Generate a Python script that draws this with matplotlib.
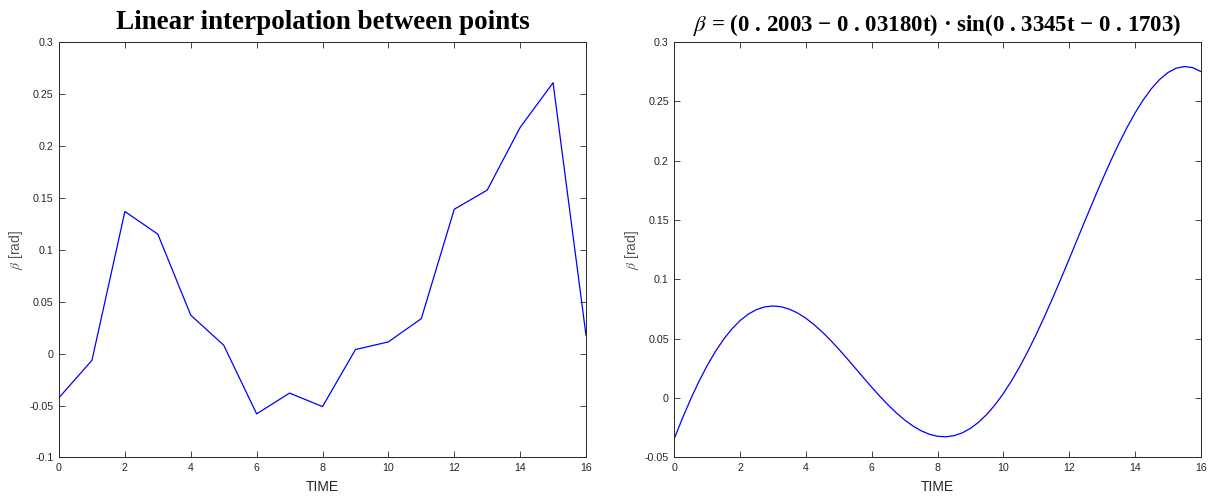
import matplotlib

matplotlib.use("Agg")
import matplotlib.pyplot as plt
import numpy as np
from matplotlib.ticker import FuncFormatter, MultipleLocator

plt.rcParams["font.family"] = ["Liberation Sans", "DejaVu Sans"]
plt.rcParams["mathtext.fontset"] = "stix"

# sampled beta values, one per time step
time_steps = np.arange(0, 17)
beta_points = [
    -0.0424, -0.0064, 0.1368, 0.1150, 0.0370, 0.0081, -0.0580, -0.0380, -0.0510,
    0.0039, 0.0113, 0.0337, 0.1390, 0.1574, 0.2177, 0.2608, 0.0177,
]

# fitted model: beta = (a - b t) * sin(w t - phi)
fit_a = 0.2003
fit_b = 0.03180
fit_w = 0.3345
fit_phi = 0.1703
fit_time = np.arange(0, 16.001, 0.25)

x_ticks = np.arange(0, 17, 2)

TEXT = "#262626"
LINE = "#0000ff"


def _style(ax, ylim):
    ax.set_xlim(0, 16)
    ax.set_ylim(*ylim)
    ax.set_xticks(x_ticks)
    ax.yaxis.set_major_locator(MultipleLocator(0.05))
    ax.yaxis.set_major_formatter(FuncFormatter(lambda v, _: f"{round(v, 4):g}"))
    ax.tick_params(direction="in", top=True, right=True, length=4.5, width=0.6,
                   labelsize=7.7, colors=TEXT, pad=4)
    for spine in ax.spines.values():
        spine.set_linewidth(0.7)
        spine.set_color(TEXT)
    ax.set_xlabel("TIME", fontsize=10, color=TEXT, labelpad=5)
    ax.set_ylabel(r"$\beta$ [rad]", fontsize=10, color="#555555", labelpad=3)


fig = plt.figure(figsize=(12.12, 4.97), dpi=100)
ax1 = fig.add_axes([0.0487, 0.0795, 0.4348, 0.836])
ax2 = fig.add_axes([0.5564, 0.0795, 0.4343, 0.836])

ax1.plot(time_steps, beta_points, color=LINE, lw=0.9)
_style(ax1, (-0.1, 0.3))
ax1.set_title("Linear interpolation between points", fontsize=19.5, fontweight="bold",
              family="Liberation Serif", pad=9)

fit_beta = (fit_a - fit_b * fit_time) * np.sin(fit_w * fit_time - fit_phi)
ax2.plot(fit_time, fit_beta, color=LINE, lw=0.9)
_style(ax2, (-0.05, 0.3))
ax2.set_title(
    rf"$\beta$ = (0 . {str(fit_a)[2:]} − 0 . {f'{fit_b:.5f}'[2:]}t) · "
    rf"sin(0 . {str(fit_w)[2:]}t − 0 . {str(fit_phi)[2:]})",
    fontsize=16.5, fontweight="bold", family="Liberation Serif", pad=8,
)

fig.savefig("out.png", dpi=100)
